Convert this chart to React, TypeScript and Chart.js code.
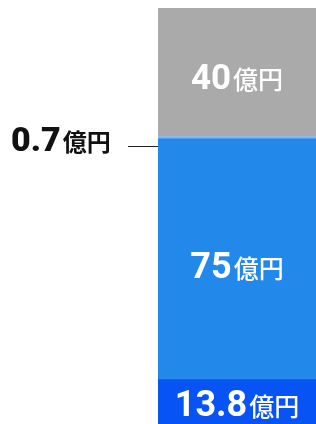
import React, { useEffect, useRef } from "react";
import { Chart, registerables } from "chart.js";

Chart.register(...registerables);

const categories = ["合計"];
const segmentNames = ["a", "b", "c", "d"];
const segmentValues = [13.8, 75, 0.7, 40];
const segmentLabels = ["13.8", "75", "0.7", "40"];
const unitLabel = "億円";
const segmentColors = ["#0753f4", "#2288ea", "#7ab8f5", "#aaaaaa"];

const FONT = "Roboto, 'Noto Sans CJK JP', sans-serif";
const CJK = "'Noto Sans CJK JP', sans-serif";

const labelPlugin = {
  id: "segLabels",
  afterDatasetsDraw(chart: any) {
    const ctx = chart.ctx;
    ctx.save();
    const numSizes = [36, 36, 34, 35];
    const extra = [1, 6, 0, 4];
    chart.data.datasets.forEach((ds: any, i: number) => {
      const meta = chart.getDatasetMeta(i);
      const el = meta.data[0];
      if (!el) return;
      const top = Math.min(el.y, el.base);
      const bottom = Math.max(el.y, el.base);
      const cy = (top + bottom) / 2;
      const num = segmentLabels[i];
      ctx.textBaseline = "alphabetic";
      ctx.textAlign = "left";
      if (i === 2) {
        const left = el.x - el.width / 2;
        const ly = Math.round(cy + 8) + 0.5;
        ctx.strokeStyle = "#222";
        ctx.lineWidth = 1;
        ctx.beginPath();
        ctx.moveTo(128, ly);
        ctx.lineTo(left, ly);
        ctx.stroke();
        ctx.fillStyle = "#111";
        ctx.font = `900 ${numSizes[i]}px ${FONT}`;
        const w = ctx.measureText(num).width;
        const base = cy + 13;
        ctx.fillText(num, 11, base);
        ctx.font = `bold 24px ${CJK}`;
        ctx.fillText(unitLabel, 11 + w + 2, base);
        return;
      }
      const numSize = numSizes[i];
      ctx.fillStyle = "#ffffff";
      ctx.font = `bold ${numSize}px ${FONT}`;
      const wn = ctx.measureText(num).width;
      ctx.font = `500 25px ${CJK}`;
      const wu = ctx.measureText(unitLabel).width;
      const gap = 2;
      const total = wn + gap + wu;
      const x0 = el.x - total / 2;
      const base = cy + numSize * 0.711 / 2 + extra[i];
      ctx.font = `bold ${numSize}px ${FONT}`;
      ctx.fillText(num, x0, base);
      ctx.font = `500 25px ${CJK}`;
      ctx.fillText(unitLabel, x0 + wn + gap, base);
    });
    ctx.restore();
  },
};

export default function App() {
  const ref = useRef<HTMLCanvasElement | null>(null);
  useEffect(() => {
    document.body.style.margin = "0";
    const total = segmentValues.reduce((a, b) => a + b, 0);
    const chart = new Chart(ref.current as HTMLCanvasElement, {
      type: "bar",
      data: {
        labels: categories,
        datasets: segmentValues.map((v, i) => ({
          label: segmentNames[i],
          data: [v],
          backgroundColor: segmentColors[i],
          borderWidth: 0,
          barPercentage: 1,
          categoryPercentage: 1,
        })),
      },
      options: {
        responsive: false,
        animation: false,
        devicePixelRatio: 1,
        layout: { padding: { top: 8, left: 158, right: 0, bottom: 0 } },
        plugins: { legend: { display: false }, tooltip: { enabled: false } },
        scales: {
          x: { stacked: true, display: false },
          y: { stacked: true, display: false, min: 0, max: total },
        },
      },
      plugins: [labelPlugin],
    });
    return () => chart.destroy();
  }, []);
  return (
    <div style={{ position: "absolute", left: 0, top: 0, width: 316, height: 424 }}>
      <canvas ref={ref} width={316} height={424} />
    </div>
  );
}
